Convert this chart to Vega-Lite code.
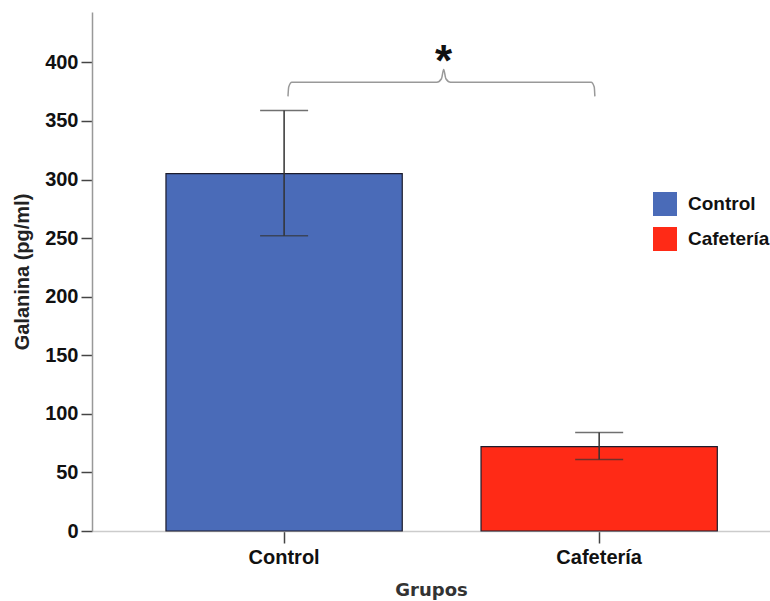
{
  "$schema": "https://vega.github.io/schema/vega-lite/v6.json",
  "autosize": "none",
  "width": 678,
  "height": 519,
  "padding": {"left": 92, "top": 12, "right": 0, "bottom": 70},
  "background": "white",
  "config": {"view": {"stroke": null}},
  "resolve": {"scale": {"x": "independent"}},
  "layer": [
    {
      "data": {"values": [
        {"grupo": "Control", "media": 305, "lo": 252, "hi": 359},
        {"grupo": "Cafetería", "media": 72, "lo": 61, "hi": 84}
      ]},
      "layer": [
        {
          "mark": {"type": "bar", "stroke": "#1c1c2c", "strokeWidth": 1.2},
          "encoding": {
            "x": {"field": "grupo", "type": "nominal", "sort": ["Control", "Cafetería"],
              "scale": {"paddingInner": 0.25, "paddingOuter": 0.201, "align": 0.584},
              "axis": {"title": "Grupos", "labelAngle": 0, "labelFont": "Liberation Sans", "labelFontWeight": "bold", "labelFontSize": 20, "labelColor": "#111", "labelPadding": 4, "tickSize": 12, "tickColor": "#444", "tickWidth": 1.5, "domainColor": "#cccccc", "domainWidth": 1.5, "titleFont": "DejaVu Sans", "titleFontWeight": "bold", "titleFontSize": 18, "titleColor": "#333", "titlePadding": 14}},
            "y": {"field": "media", "type": "quantitative", "title": "Galanina (pg/ml)",
              "scale": {"domain": [0, 443], "nice": false},
              "axis": {"values": [0, 50, 100, 150, 200, 250, 300, 350, 400], "grid": false, "labelFont": "Liberation Sans", "labelFontWeight": "bold", "labelFontSize": 20, "labelColor": "#111", "labelPadding": 3, "tickSize": 11, "tickColor": "#444", "tickWidth": 1.5, "domainColor": "#999999", "domainWidth": 1.5, "titleFont": "Liberation Sans", "titleFontWeight": "bold", "titleFontSize": 20, "titleColor": "#222", "titlePadding": 12}},
            "color": {"field": "grupo", "type": "nominal", "sort": ["Control", "Cafetería"],
              "scale": {"domain": ["Control", "Cafetería"], "range": ["#4a6bb8", "#ff2a16"]},
              "legend": {"title": null, "orient": "none", "legendX": 561, "legendY": 180, "symbolType": "square", "symbolSize": 576, "symbolStrokeWidth": 0, "labelFont": "Liberation Sans", "labelFontWeight": "bold", "labelFontSize": 19, "labelColor": "#111", "labelOffset": 11, "rowPadding": 11}}
          }
        },
        {
          "mark": {"type": "rule", "color": "#333333", "strokeWidth": 1.5},
          "encoding": {
            "x": {"field": "grupo", "type": "nominal", "sort": ["Control", "Cafetería"]},
            "y": {"field": "lo", "type": "quantitative", "title": "Galanina (pg/ml)"},
            "y2": {"field": "hi"}
          }
        },
        {
          "mark": {"type": "tick", "color": "#333333", "thickness": 1.5, "size": 48},
          "encoding": {
            "x": {"field": "grupo", "type": "nominal", "sort": ["Control", "Cafetería"]},
            "y": {"field": "lo", "type": "quantitative", "title": "Galanina (pg/ml)"}
          }
        },
        {
          "mark": {"type": "tick", "color": "#333333", "thickness": 1.5, "size": 48},
          "encoding": {
            "x": {"field": "grupo", "type": "nominal", "sort": ["Control", "Cafetería"]},
            "y": {"field": "hi", "type": "quantitative", "title": "Galanina (pg/ml)"}
          }
        }
      ]
    },
    {
      "layer": [
        {
          "data": {"values": [
            {"pos": 1.0127, "nivel": 371, "orden": 1},
            {"pos": 1.015, "nivel": 379, "orden": 2},
            {"pos": 1.025, "nivel": 383, "orden": 3},
            {"pos": 1.485, "nivel": 383, "orden": 4},
            {"pos": 1.5, "nivel": 386, "orden": 5},
            {"pos": 1.507, "nivel": 394, "orden": 6},
            {"pos": 1.514, "nivel": 386, "orden": 7},
            {"pos": 1.529, "nivel": 383, "orden": 8},
            {"pos": 1.975, "nivel": 383, "orden": 9},
            {"pos": 1.985, "nivel": 379, "orden": 10},
            {"pos": 1.987, "nivel": 371, "orden": 11}
          ]},
          "mark": {"type": "line", "color": "#999999", "strokeWidth": 1.5, "interpolate": "monotone"},
          "encoding": {
            "x": {"field": "pos", "type": "quantitative", "scale": {"domain": [0.3905, 2.543], "nice": false, "zero": false}, "axis": null},
            "y": {"field": "nivel", "type": "quantitative", "title": "Galanina (pg/ml)"},
            "order": {"field": "orden"}
          }
        },
        {
          "data": {"values": [{"pos": 1.507, "nivel": 388, "txt": "*"}]},
          "mark": {"type": "text", "font": "Liberation Sans", "fontWeight": "bold", "fontSize": 44, "color": "#111", "baseline": "alphabetic", "align": "center"},
          "encoding": {
            "x": {"field": "pos", "type": "quantitative", "axis": null},
            "y": {"field": "nivel", "type": "quantitative", "title": "Galanina (pg/ml)"},
            "text": {"field": "txt"}
          }
        }
      ]
    }
  ]
}
